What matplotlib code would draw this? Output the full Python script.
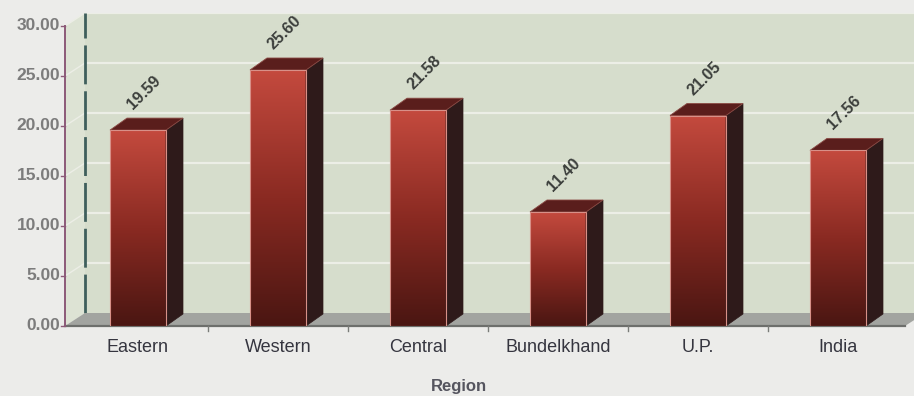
import numpy as np
import matplotlib
matplotlib.use("Agg")
import matplotlib.pyplot as plt
from matplotlib.patches import Polygon, Rectangle
from matplotlib.colors import LinearSegmentedColormap

# Data
regions = ["Eastern", "Western", "Central", "Bundelkhand", "U.P.", "India"]
values = [19.59, 25.60, 21.58, 11.40, 21.05, 17.56]
yticks = [0, 5, 10, 15, 20, 25, 30]
ytick_labels = ["0.00", "5.00", "10.00", "15.00", "20.00", "25.00", "30.00"]

W, H = 914, 396
fig = plt.figure(figsize=(W / 100, H / 100), dpi=100)
fig.patch.set_facecolor("#ececea")

# axes placed in pixel terms: x from 65 px to 914 px, y from 326 px (0) to 13 px
left_px, right_px = 65, 914
bot_px, top_px = 326, 13
ax = fig.add_axes([left_px / W, (H - bot_px) / H, (right_px - left_px) / W, (bot_px - top_px) / H])
unit = 140.0  # px per category
x0 = -(138 - 65) / unit
x1 = x0 + (right_px - left_px) / unit
ymax = 30 * (bot_px - top_px) / 300.0
ax.set_xlim(x0, x1)
ax.set_ylim(0, ymax)
ax.set_axis_off()

wall_dx, wall_dy = 20 / unit, 1.3
bar_dx, bar_dy = 17 / unit, 1.2
bw = 56 / unit
x_end = x0 + 840 / unit

# back wall
ax.add_patch(Rectangle((x0 + wall_dx, wall_dy), x1 - x0, 30, facecolor="#d6ddcc",
                       edgecolor="none", zorder=0))
# side wall
ax.add_patch(Polygon([(x0, 0), (x0 + wall_dx, wall_dy), (x0 + wall_dx, 30 + wall_dy), (x0, 30)],
                     closed=True, facecolor="#dde3d4", edgecolor="none", zorder=0))
# gridlines on walls
for t in yticks[1:]:
    ax.plot([x0 + wall_dx, x1], [t + wall_dy, t + wall_dy], color="#eceee6", lw=1.6, zorder=1)
    ax.plot([x0, x0 + wall_dx], [t, t + wall_dy], color="#eceee6", lw=1.0, zorder=1)
# dashed wall corner
ax.plot([x0 + wall_dx, x0 + wall_dx], [wall_dy, 30 + wall_dy], color="#3f5f5c", lw=2.0,
        zorder=1, dashes=(14, 2.5))

# floor
ax.add_patch(Polygon([(x0, 0), (x_end, 0), (x_end + wall_dx, wall_dy), (x0 + wall_dx, wall_dy)],
                     closed=True, facecolor="#a2a4a0", edgecolor="none", zorder=1))
ax.plot([x0, x_end], [0, 0], color="#6d6f6c", lw=1.6, zorder=2, clip_on=False)

# bars with vertical gradient front faces
grad = LinearSegmentedColormap.from_list("bar", ["#4a1612", "#8a2a22", "#c44a3e"])
g = np.linspace(0, 1, 256).reshape(-1, 1)
for i, v in enumerate(values):
    xl = i - bw / 2
    xr = i + bw / 2
    ax.imshow(g, extent=(xl, xr, 0, v), origin="lower", cmap=grad, aspect="auto",
              zorder=3, interpolation="bicubic")
    ax.add_patch(Rectangle((xl, 0), bw, v, facecolor="none", edgecolor="#d89088",
                           lw=0.8, zorder=4))
    ax.add_patch(Polygon([(xr, 0), (xr + bar_dx, bar_dy), (xr + bar_dx, v + bar_dy), (xr, v)],
                         closed=True, facecolor="#2e1a1a", edgecolor="#2e1a1a", lw=0.5, zorder=3))
    ax.add_patch(Polygon([(xl, v), (xr, v), (xr + bar_dx, v + bar_dy), (xl + bar_dx, v + bar_dy)],
                         closed=True, facecolor="#5a1e1c", edgecolor="#8a4a44", lw=0.6, zorder=3))
    ax.text(i - 0.035, v + 2.0, f"{v:.2f}", rotation=45, rotation_mode="anchor",
            ha="left", va="baseline", fontsize=11.5, fontweight="bold", color="#3c3f3c",
            family="Liberation Sans", zorder=5)

# y axis
ax.plot([x0, x0], [0, 30], color="#8c5a78", lw=1.4, zorder=5, clip_on=False)
tick_len = 4 / unit
for t, lab in zip(yticks, ytick_labels):
    ax.plot([x0 - tick_len, x0], [t, t], color="#8c5a78", lw=1.0, clip_on=False, zorder=5)
    ax.text(x0 - 5 / unit, t, lab, ha="right", va="center", fontsize=12.5, fontweight="bold",
            color="#7c7c7c", family="Liberation Sans")

# x ticks between categories
for k in range(len(regions) - 1):
    ax.plot([k + 0.5, k + 0.5], [0, -0.5], color="#7a7c79", lw=1.0, clip_on=False, zorder=5)

for i, r in enumerate(regions):
    ax.text(i, -2.1, r, ha="center", va="center", fontsize=13, color="#35353f",
            family="Liberation Sans")

fig.text(459 / W, 1 - 387 / H, "Region", ha="center", va="center", fontsize=12,
         fontweight="bold", color="#55555f", family="Liberation Sans")

fig.savefig("out.png", dpi=100, facecolor=fig.get_facecolor())
